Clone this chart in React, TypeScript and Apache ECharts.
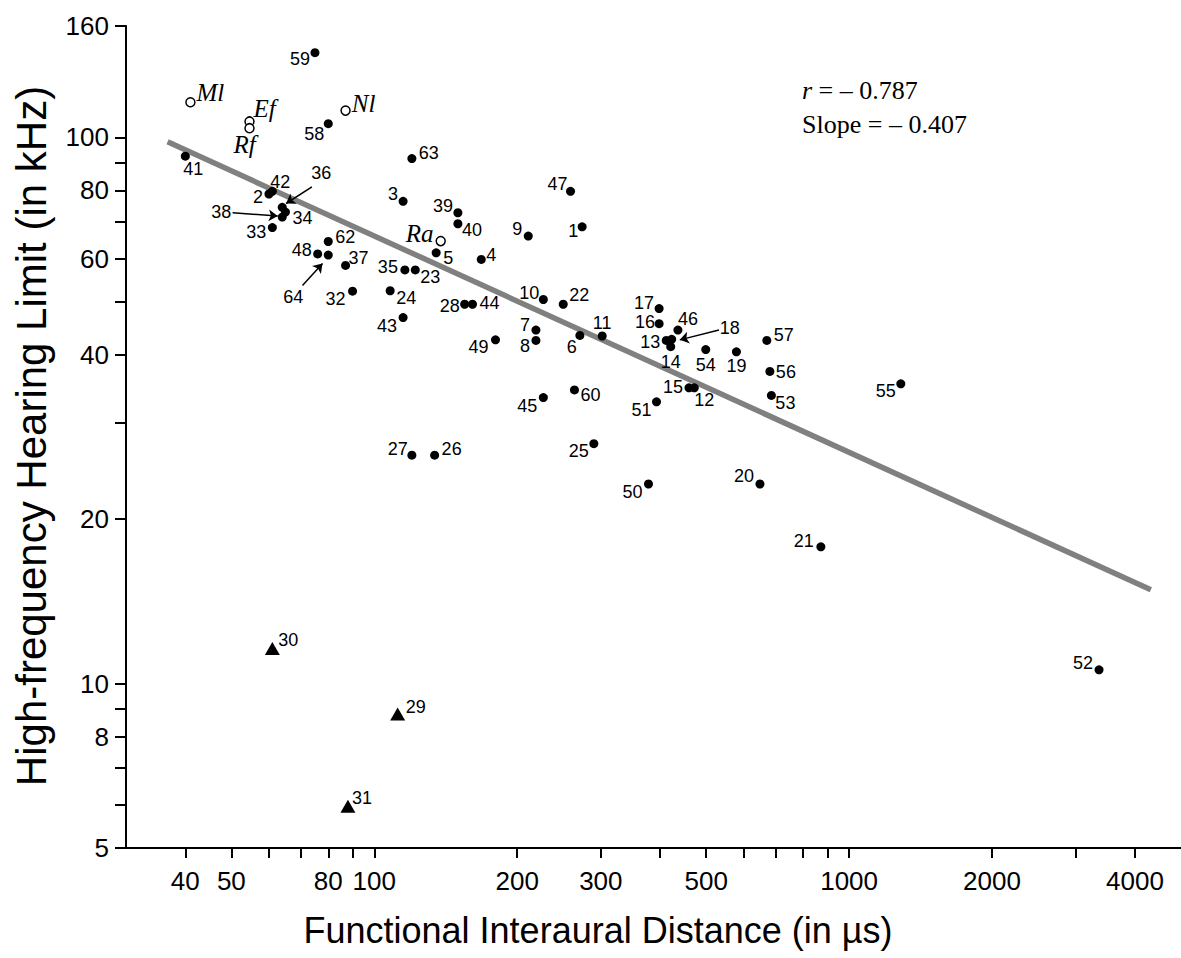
import React, { useEffect, useRef } from 'react';
import * as echarts from 'echarts';

// Axis ticks (data units)
const xTickValues = [40, 50, 60, 70, 80, 90, 100, 200, 300, 400, 500, 600, 700, 800, 900, 1000, 2000, 3000, 4000];
const xTickLabels = [40, 50, 80, 100, 200, 300, 500, 1000, 2000, 4000];
const yTickValues = [5, 6, 7, 8, 9, 10, 20, 30, 40, 50, 60, 70, 80, 90, 100, 160];
const yTickLabels = [5, 8, 10, 20, 40, 60, 80, 100, 160];

// [id, interaural distance (µs), hearing limit (kHz)]
const filledPoints: [string, number, number][] = [
  ['1', 274, 68.6], ['2', 60, 78.8], ['3', 115, 76.4], ['4', 168, 59.8], ['5', 135, 61.5],
  ['6', 271, 43.4], ['7', 219, 44.4], ['8', 219, 42.5], ['9', 211, 66], ['10', 227, 50.5],
  ['11', 302, 43.3], ['12', 472, 34.8], ['13', 412, 42.5], ['14', 421, 41.4], ['15', 460, 34.8],
  ['16', 398, 45.6], ['17', 398, 48.6], ['18', 423, 42.7], ['19', 579, 40.5], ['20', 649, 23.2],
  ['21', 872, 17.8], ['22', 250, 49.5], ['23', 122, 57.2], ['24', 108, 52.4], ['25', 290, 27.5],
  ['26', 134, 26.2], ['27', 120, 26.2], ['28', 155, 49.5], ['32', 90, 52.3], ['33', 61, 68.4],
  ['34', 65, 73], ['35', 116, 57.2], ['36', 64, 74.5], ['37', 87, 58.3], ['38', 64, 71.5],
  ['39', 150, 72.8], ['40', 150, 69.5], ['41', 40, 92.4], ['42', 61, 79.7], ['43', 115, 46.8],
  ['44', 161, 49.5], ['45', 227, 33.4], ['46', 436, 44.4], ['47', 259, 79.7], ['48', 76, 61.2],
  ['49', 180, 42.6], ['50', 378, 23.2], ['51', 393, 32.8], ['52', 3360, 10.6], ['53', 686, 33.7],
  ['54', 499, 40.9], ['55', 1285, 35.4], ['56', 681, 37.3], ['57', 671, 42.5], ['58', 80, 106],
  ['59', 75, 143], ['60', 264, 34.5], ['62', 80, 64.5], ['63', 120, 91.5], ['64', 80, 60.9],
];
const trianglePoints: [string, number, number][] = [
  ['29', 112, 8.8], ['30', 61, 11.6], ['31', 88, 5.96],
];
const openPoints: [string, number, number][] = [
  ['Ml', 41, 116], ['Ef', 54.6, 107], ['Rf', 54.6, 104], ['Nl', 87, 112], ['Ra', 138, 64.6],
];
// regression line end points
const regressionLine: [number, number][] = [[36.7, 98.2], [4320, 14.85]];
// arrows from label to point: [from, to]
const arrowFrom: [number, number][] = [[532, 44.4], [73.9, 81.2], [50.3, 72.8], [70.6, 53.6]];
const arrowTo: [number, number][] = [[440, 42.6], [65.2, 75.7], [62.6, 71.8], [77.8, 58.8]];
const statsLines = ['{i|r} = – 0.787', 'Slope = – 0.407'];

// label placement (pixels relative to the marker centre)
const labelOffsets: Record<string, [number, number]> = {
  '1': [-9, 4], '2': [-11, 3], '3': [-10, -7], '4': [10, -4], '5': [12, 5], '6': [-8, 12],
  '7': [-11, -5], '8': [-11, 6], '9': [-11, -7], '10': [-14, -7], '11': [0, -13], '12': [10, 12],
  '13': [-16, 2], '14': [0, 15], '15': [-16, -1], '16': [-14, -2], '17': [-15, -6], '18': [58, -11],
  '19': [0, 14], '20': [-16, -8], '21': [-17, -6], '22': [16, -9], '23': [15, 7], '24': [16, 7],
  '25': [-15, 7], '26': [17, -6], '27': [-14, -6], '28': [-15, 2], '29': [18, -7], '30': [16, -8],
  '31': [14, -8], '32': [-17, 8], '33': [-16, 4], '34': [17, 6], '35': [-17, -3], '36': [39, -34],
  '37': [13, -7], '38': [-61, -5], '39': [-15, -7], '40': [14, 6], '41': [8, 13], '42': [8, -9],
  '43': [-16, 8], '44': [17, -1], '45': [-16, 8], '46': [10, -11], '47': [-13, -7], '48': [-16, -4],
  '49': [-17, 7], '50': [-16, 8], '51': [-15, 8], '52': [-16, -7], '53': [14, 8], '54': [0, 15],
  '55': [-15, 7], '56': [16, 1], '57': [17, -5], '58': [-14, 10], '59': [-15, 6], '60': [16, 5],
  '62': [17, -4], '63': [17, -6], '64': [-35, 42],
  Ml: [20, -10], Ef: [15, -13], Rf: [-5, 16], Nl: [18, -7], Ra: [-21, -8],
};

const L = (v: number) => Math.log10(v);
const SANS = '"Liberation Sans", Arial, Helvetica, sans-serif';
const SERIF = '"Liberation Serif", "Times New Roman", serif';

function pointData(list: [string, number, number][], italic: boolean) {
  return list.map(([id, x, y]) => ({
    name: id,
    value: [L(x), L(y)],
    label: {
      show: true,
      position: 'inside',
      offset: labelOffsets[id] || [12, -6],
      formatter: '{b}',
      color: '#000',
      textBorderWidth: 0,
      fontSize: italic ? 25 : 18,
      fontStyle: italic ? 'italic' : 'normal',
      fontFamily: italic ? SERIF : SANS,
    },
  }));
}

export default function App() {
  const ref = useRef<HTMLDivElement>(null);
  useEffect(() => {
    document.body.style.margin = '0';
    const chart = echarts.init(ref.current!, null, { renderer: 'svg' });
    const fmt = (v: number) => String(Math.round(Math.pow(10, v)));
    const option: any = {
      animation: false,
      backgroundColor: '#fff',
      grid: { left: 126, right: 0, top: 26, bottom: 110 },
      xAxis: {
        type: 'value',
        min: L(30),
        max: L(5000),
        axisLine: { show: true, onZero: false, lineStyle: { color: '#000', width: 2 } },
        axisTick: { show: true, length: 10, customValues: xTickValues.map(L), lineStyle: { color: '#000', width: 2 } },
        axisLabel: { customValues: xTickLabels.map(L), formatter: fmt, fontSize: 26, color: '#000', margin: 20, fontFamily: SANS },
        splitLine: { show: false },
      },
      yAxis: {
        type: 'value',
        min: L(5),
        max: L(160),
        axisLine: { show: true, onZero: false, lineStyle: { color: '#000', width: 2 } },
        axisTick: { show: true, length: 11, customValues: yTickValues.map(L), lineStyle: { color: '#000', width: 2 } },
        axisLabel: { customValues: yTickLabels.map(L), formatter: fmt, fontSize: 26, color: '#000', margin: 17, fontFamily: SANS },
        splitLine: { show: false },
      },
      series: [
        {
          type: 'line',
          data: regressionLine.map(([x, y]) => [L(x), L(y)]),
          showSymbol: false,
          symbol: 'none',
          lineStyle: { color: '#808080', width: 5.5, opacity: 1 },
          z: 1,
          markLine: {
            silent: true,
            symbol: ['none', 'arrow'],
            symbolSize: 9,
            label: { show: false },
            lineStyle: { color: '#000', width: 1.5, type: 'solid', opacity: 1 },
            data: arrowFrom.map((f, i) => [
              { coord: [L(f[0]), L(f[1])] },
              { coord: [L(arrowTo[i][0]), L(arrowTo[i][1])] },
            ]),
          },
        },
        {
          type: 'scatter',
          symbol: 'circle',
          symbolSize: 9,
          itemStyle: { color: '#000', opacity: 1 },
          data: pointData(filledPoints, false),
          z: 3,
        },
        {
          type: 'scatter',
          symbol: 'triangle',
          symbolSize: [15, 13],
          itemStyle: { color: '#000', opacity: 1 },
          data: pointData(trianglePoints, false),
          z: 3,
        },
        {
          type: 'scatter',
          symbol: 'circle',
          symbolSize: 9,
          itemStyle: { color: '#fff', borderColor: '#000', borderWidth: 1.5, opacity: 1 },
          data: pointData(openPoints, true),
          z: 3,
        },
      ],
      graphic: [
        {
          type: 'text',
          x: 598,
          y: 930,
          style: {
            text: 'Functional Interaural Distance (in µs)',
            fontSize: 36,
            fontFamily: SANS,
            fill: '#000',
            align: 'center',
            verticalAlign: 'middle',
          },
        },
        {
          type: 'text',
          x: 31,
          y: 436,
          rotation: Math.PI / 2,
          style: {
            text: 'High-frequency Hearing Limit (in kHz)',
            fontSize: 42,
            fontFamily: SANS,
            fill: '#000',
            align: 'center',
            verticalAlign: 'middle',
          },
        },
        {
          type: 'text',
          x: 802,
          y: 90,
          style: {
            text: statsLines[0],
            fontSize: 26,
            fontFamily: SERIF,
            fill: '#000',
            align: 'left',
            verticalAlign: 'middle',
            rich: { i: { fontStyle: 'italic', fontSize: 26, fontFamily: SERIF } },
          },
        },
        {
          type: 'text',
          x: 802,
          y: 124,
          style: {
            text: statsLines[1],
            fontSize: 26,
            fontFamily: SERIF,
            fill: '#000',
            align: 'left',
            verticalAlign: 'middle',
          },
        },
      ],
    };
    chart.setOption(option);
    return () => chart.dispose();
  }, []);
  return <div ref={ref} style={{ width: 1181, height: 958 }} />;
}
